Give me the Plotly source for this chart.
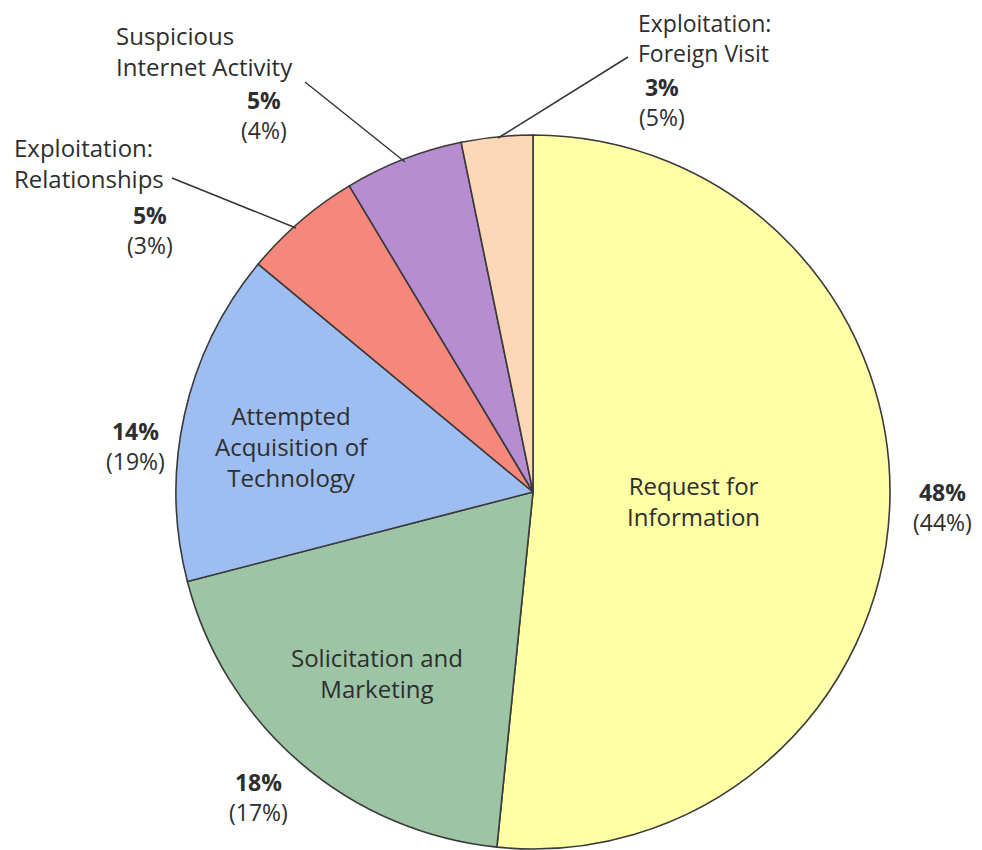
import plotly.graph_objects as go

categories = ["Request for Information", "Solicitation and Marketing",
              "Attempted Acquisition of Technology", "Exploitation: Relationships",
              "Suspicious Internet Activity", "Exploitation: Foreign Visit"]
values = [48, 18, 14, 5, 5, 3]
prev_values = [44, 17, 19, 3, 4, 5]
colors = ["#FFFFA6", "#9DC4A4", "#9EBDF0", "#F5887B", "#B68DD0", "#FDD8B6"]

W, H = 982, 850
OFF = 8  # page body margin
FONT = "Open Sans"
TXT = "#2e2e2e"
FS = 24


def px(x):
    return (x - OFF) / W


def py(y):
    return 1 - (y - OFF) / H


fig = go.Figure(go.Pie(
    labels=categories, values=values, sort=False, direction="clockwise",
    rotation=0, textinfo="none", hoverinfo="label+percent",
    marker=dict(colors=colors, line=dict(color="#3a3a3a", width=1.6)),
    domain=dict(x=[px(176), px(890)], y=[py(849), py(135)]),
    showlegend=False,
))


def ann(x, y, text, align="center", xanchor="center", size=FS):
    fig.add_annotation(x=px(x), y=py(y), xref="paper", yref="paper",
                       text=text, showarrow=False,
                       align=align, xanchor=xanchor, yanchor="middle",
                       font=dict(family=FONT, size=size, color=TXT))


# inside labels
ann(693, 501, "Request for<br>Information")
ann(377, 673, "Solicitation and<br>Marketing")
ann(292, 446, "Attempted<br>Acquisition of<br>Technology")

# percentages (current year bold, previous year in parentheses)
pct_pos = [(942, 507), (258, 797), (136, 446), (150, 230), (264, 115), (662, 102)]
for v, pv, (x, y) in zip(values, prev_values, pct_pos):
    ann(x, y, f"<b>{v}%</b><br>({pv}%)", size=23)

# outside labels
ann(12, 163, "Exploitation:<br>Relationships", align="left", xanchor="left")
ann(114, 51, "Suspicious<br>Internet Activity", align="left", xanchor="left")
ann(636, 38, "Exploitation:<br>Foreign Visit", align="left", xanchor="left", size=23)

# leader lines
for (x0, y0, x1, y1) in [(172, 178, 296, 228), (305, 82, 405, 162), (628, 57, 498, 138)]:
    fig.add_shape(type="line", xref="paper", yref="paper",
                  x0=px(x0), y0=py(y0), x1=px(x1), y1=py(y1),
                  line=dict(color="#333333", width=1.5))

fig.update_layout(width=W, height=H, margin=dict(l=0, r=0, t=0, b=0),
                  paper_bgcolor="white", plot_bgcolor="white")

fig.write_html("out.html")
